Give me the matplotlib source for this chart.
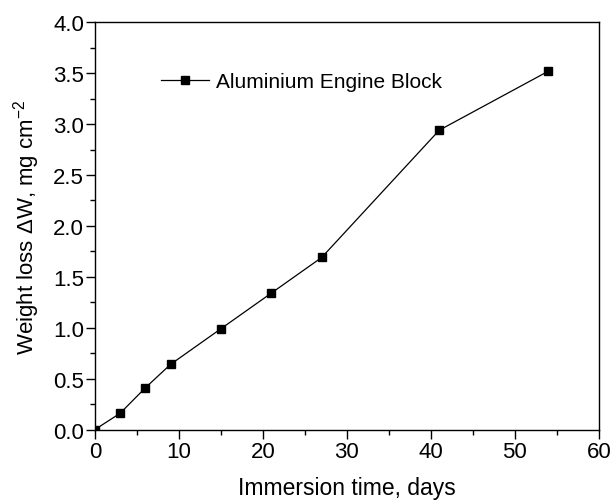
import matplotlib
matplotlib.use("Agg")
import matplotlib.pyplot as plt
from matplotlib.ticker import MultipleLocator

plt.rcParams['font.family'] = ['Liberation Sans', 'DejaVu Sans']
plt.rcParams['mathtext.fontset'] = 'custom'
plt.rcParams['mathtext.rm'] = 'Liberation Sans'

days = [0, 3, 6, 9, 15, 21, 27, 41, 54]
weight_loss = [0.0, 0.16, 0.41, 0.64, 0.99, 1.34, 1.69, 2.94, 3.52]
series_label = "Aluminium Engine Block"

fig = plt.figure(figsize=(6.11, 5.02), dpi=100)
ax = fig.add_axes([0.1555, 0.1424, 0.8245, 0.8112])

ax.plot(days, weight_loss, color='black', lw=0.9, marker='s', ms=6,
        mfc='black', mec='black', label=series_label)

ax.set_xlim(0, 60)
ax.set_ylim(0, 4.0)
ax.xaxis.set_major_locator(MultipleLocator(10))
ax.xaxis.set_minor_locator(MultipleLocator(5))
ax.yaxis.set_minor_locator(MultipleLocator(0.25))
ax.set_yticks([0, 0.5, 1.0, 1.5, 2.0, 2.5, 3.0, 3.5, 4.0])
ax.set_yticklabels(['0.0', '0.5', '1.0', '1.5', '2.0', '2.5', '3.0', '3.5', '4.0'])

ax.tick_params(which='major', direction='out', length=6.5, width=1, labelsize=16,
               top=False, right=False, pad=1.5)
ax.tick_params(which='minor', direction='out', length=3.5, width=1, top=False, right=False)
for s in ax.spines.values():
    s.set_linewidth(1)

ax.set_xlabel("Immersion time, days", fontsize=16.5, labelpad=10)
ax.set_ylabel("Weight loss \u0394W, mg cm$^{-2}$", fontsize=16, labelpad=8)

ax.legend(loc='center left', bbox_to_anchor=(0.131, 0.855), frameon=False,
          fontsize=15, handlelength=2.3, handletextpad=0.34, borderpad=0,
          borderaxespad=0)

fig.savefig("out.png", dpi=100)
